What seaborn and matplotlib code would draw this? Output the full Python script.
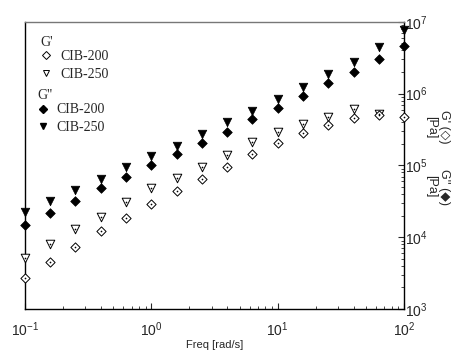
import matplotlib
matplotlib.use("Agg")
import matplotlib.pyplot as plt
import matplotlib.ticker as mticker
from matplotlib.lines import Line2D
import numpy as np
import pandas as pd
import seaborn as sns

# frequency sweep, 5 points per decade
freq = [0.1, 0.158, 0.251, 0.398, 0.631, 1.0, 1.585, 2.51, 3.98, 6.31,
        10.0, 15.85, 25.1, 39.8, 63.1, 100.0]

# G' (storage modulus) [Pa]
gp_cib200 = [2700, 4520, 7310, 12200, 18500, 29000, 44100, 64900, 95300,
             144500, 206000, 284000, 366000, 459000, 506000, 474000]
gp_cib250 = [5140, 8050, 13000, 19150, 31000, 48500, 67000, 95300, 140000,
             213000, 293000, 379000, 474000, 613000, 523000, np.nan]

# G'' (loss modulus) [Pa]
gpp_cib200 = [14800, 21800, 32000, 48500, 69200, 101600, 144500, 206000,
              293000, 445000, 633000, 930000, 1410000, 2010000, 3050000, 4630000]
gpp_cib250 = [22500, 32000, 45600, 64900, 95300, 135600, 187000, 275000,
              404000, 575000, 845000, 1240000, 1880000, 2770000, 4490000, 7740000]

sns.set_style("ticks")
plt.rcParams['font.family'] = ['Liberation Sans', 'DejaVu Sans']
plt.rcParams['mathtext.fontset'] = 'custom'
plt.rcParams['mathtext.rm'] = 'Liberation Sans'
plt.rcParams['mathtext.it'] = 'Liberation Sans:italic'
plt.rcParams['mathtext.bf'] = 'Liberation Sans:bold'

df = pd.DataFrame({"freq": freq, "gp200": gp_cib200, "gp250": gp_cib250,
                   "gpp200": gpp_cib200, "gpp250": gpp_cib250})

fig = plt.figure(figsize=(4.53, 3.52), dpi=100)
ax = fig.add_axes([0.055, 0.122, 0.837, 0.816])

sns.scatterplot(data=df, x="freq", y="gpp250", marker="v", s=38,
                color="black", edgecolor="black", linewidth=0.5, ax=ax,
                zorder=3, clip_on=False)
sns.scatterplot(data=df, x="freq", y="gpp200", marker="D", s=24,
                color="black", edgecolor="black", linewidth=0.5, ax=ax,
                zorder=3, clip_on=False)
sns.scatterplot(data=df, x="freq", y="gp250", marker="v", s=38,
                color="white", edgecolor="black", linewidth=0.7, ax=ax,
                zorder=3, clip_on=False)
sns.scatterplot(data=df, x="freq", y="gp200", marker="D", s=22,
                color="white", edgecolor="black", linewidth=0.7, ax=ax,
                zorder=3, clip_on=False)
# little center dots of the open symbols
sns.scatterplot(data=df, x="freq", y="gp250", marker="o", s=1.5,
                color="black", linewidth=0, ax=ax, zorder=4, clip_on=False)
sns.scatterplot(data=df, x="freq", y="gp200", marker="o", s=1.5,
                color="black", linewidth=0, ax=ax, zorder=4, clip_on=False)

ax.set_xscale("log")
ax.set_yscale("log")
ax.set_xlim(0.1, 100)
ax.set_ylim(1e3, 1e7)
ax.set_xlabel("Freq [rad/s]", fontsize=8, labelpad=1)
ax.set_ylabel("")

ax.yaxis.tick_right()
ax.tick_params(axis="both", which="both", direction="in", labelsize=10,
               top=False, left=False)
ax.tick_params(axis="both", which="major", length=4, width=0.8)
ax.tick_params(axis="both", which="minor", length=2.5, width=0.6)
ax.tick_params(axis="x", pad=8)
ax.tick_params(axis="y", pad=1)
ax.xaxis.set_major_locator(mticker.LogLocator(base=10, numticks=10))
ax.xaxis.set_minor_locator(mticker.LogLocator(base=10, subs=np.arange(2, 10), numticks=20))
ax.yaxis.set_major_locator(mticker.LogLocator(base=10, numticks=10))
ax.yaxis.set_minor_locator(mticker.LogLocator(base=10, subs=np.arange(2, 10), numticks=20))

for side in ["left", "bottom", "right"]:
    ax.spines[side].set_color("black")
    ax.spines[side].set_linewidth(1.0)
ax.spines["top"].set_color("#777777")
ax.spines["top"].set_linewidth(1.0)

serif = ['Liberation Serif', 'DejaVu Serif']
h200 = Line2D([], [], marker="D", ls="", mfc="white", mec="black", ms=4, mew=0.7)
h250 = Line2D([], [], marker="v", ls="", mfc="white", mec="black", ms=5, mew=0.7)
f200 = Line2D([], [], marker="D", ls="", mfc="black", mec="black", ms=4)
f250 = Line2D([], [], marker="v", ls="", mfc="black", mec="black", ms=5)

leg1 = ax.legend([h200, h250], ["CIB-200", "CIB-250"],
                 loc="upper left", bbox_to_anchor=(0.02, 0.93), frameon=False,
                 prop={"family": serif, "size": 10},
                 handlelength=0.8, handletextpad=0.6, labelspacing=0.35,
                 borderpad=0.1)
ax.add_artist(leg1)
ax.legend([f200, f250], ["CIB-200", "CIB-250"],
          loc="upper left", bbox_to_anchor=(0.01, 0.745), frameon=False,
          prop={"family": serif, "size": 10},
          handlelength=0.8, handletextpad=0.6, labelspacing=0.35,
          borderpad=0.1)
ax.text(0.042, 0.927, "G'", transform=ax.transAxes, ha="left", va="center",
        fontsize=10, family=serif)
ax.text(0.034, 0.742, "G''", transform=ax.transAxes, ha="left", va="center",
        fontsize=10, family=serif)

fig.text(0.965, 0.64, "G' (\u25c7)\n[Pa]", rotation=270, fontsize=9,
         ha="center", va="center", linespacing=1.1,
         family=['Liberation Sans', 'DejaVu Sans'])
fig.text(0.965, 0.47, "G'' (\u25c6)\n[Pa]", rotation=270, fontsize=9,
         ha="center", va="center", linespacing=1.1,
         family=['Liberation Sans', 'DejaVu Sans'])

fig.savefig("out.png", dpi=100)
